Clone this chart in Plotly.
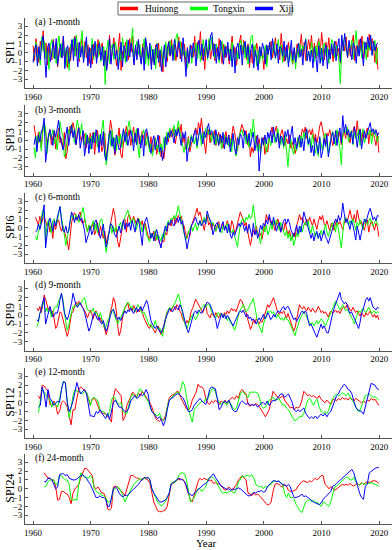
import numpy as np
import plotly.graph_objects as go

STATIONS = ["Huinong", "Tongxin", "Xiji"]
COLORS = ["#ff0000", "#00ff00", "#0000ff"]
PANEL_LABELS = ["(a) 1-month", "(b) 3-month", "(c) 6-month",
                "(d) 9-month", "(e) 12-month", "(f) 24-month"]
Y_TITLES = ["SPI1", "SPI3", "SPI6", "SPI9", "SPI12", "SPI24"]
YEAR_TICKS = [1960, 1970, 1980, 1990, 2000, 2010, 2020]
SPI_TICKS = [-3, -2, -1, 0, 1, 2, 3]

# time sampling (first date, step in years) of each SPI series
SPI1_T0, SPI1_DT = 1960.0, 0.25
SPI3_T0, SPI3_DT = 1960.17, 0.25
SPI6_T0, SPI6_DT = 1960.42, 0.25
SPI9_T0, SPI9_DT = 1960.67, 0.25
SPI12_T0, SPI12_DT = 1960.92, 1 / 3
SPI24_T0, SPI24_DT = 1961.92, 1 / 3

# ---------------- SPI1 ----------------
spi1_huinong = [
    0.8, -0.9, 1.6, 0.2, -1.1, 1.3, 0.4, 2.5, -0.6, 1.1, -1.4, 0.9, 0.3, -0.8, 1.5, -0.2, 1.2, -1.6, 0.4, 0.9, -0.5, 1.8, -1.2, 0.3, -1.7, 0.6, -0.9, 1.4, 0.2, 1.9, -0.4, 1.1, -1.0, 0.7, 1.6, -0.3, 1.3, -0.6, 0.9, -1.2,
    0.5, -1.3, 1.0, 0.1, -0.7, 1.5, -0.2, 0.6, 1.1, -1.1, 0.3, -1.8, 0.4, 2.0, -0.9, 0.8, 1.7, -0.3, -1.5, 0.5, 2.2, -2.0, 0.2, -0.6, 1.2, 0.4, -0.8, 1.6, 0.1, 1.9, -1.1, 0.7, -0.4, 1.3, 0.2, -1.2, 1.0, -0.5, 1.4, 0.3,
    -0.8, 0.6, -1.4, 0.2, -1.2, 0.9, -0.6, 1.1, -1.6, 0.3, -2.2, 0.5, 0.8, -1.0, 1.3, -0.4, 1.5, -0.2, 0.9, -0.9, 0.4, 1.8, -0.7, 1.2, -0.3, 1.0, -1.5, 0.6, -1.1, 0.2, 0.8, -0.5, 1.9, -0.4, 1.2, 0.3, 2.4, -0.8, 0.5, -1.9,
    0.9, -0.3, 1.4, -0.7, 0.3, 1.1, -0.9, 0.5, -0.4, 1.6, 0.1, -1.2, 1.0, -0.6, 0.7, 0.2, -1.3, 0.8, 1.9, -0.5, 0.6, -1.4, 0.2, 1.2, 2.0, -0.2, 1.4, 0.4, -0.8, 1.0, -1.7, 0.3, -1.2, 0.7, -0.4, 1.1, 0.2, -0.9, 0.6, -0.3,
    -1.9, 0.5, -1.1, 0.8, 0.3, 1.3, -0.6, 0.9, 1.7, -0.3, 0.4, -0.8, 2.2, 0.1, -1.0, 0.6, -0.5, 1.2, -0.2, 0.3, -1.3, 0.4, -0.7, 1.0, -0.2, 0.8, 2.1, -0.4, 1.2, -0.9, 0.6, 1.5, 0.4, 2.0, -0.5, 1.1, -0.6, 0.9, 1.6, -0.2,
    2.3, 0.4, -0.8, 1.2, 0.1, 1.7, -0.5, 0.6, -1.0, 0.8, 1.3, -0.3, 0.5, -1.2, 0.9, 1.4, 0.2, 1.8, -0.6, 0.7, -0.4, 1.1, 2.0, -0.9, 0.8, -0.3, 1.5, 0.2, 1.9, -0.7, 0.4, 1.2, -0.5, 2.1, 0.3, 1.6, 0.6, -1.1, 1.0, -1.9,
]
spi1_tongxin = [
    -0.9, 0.4, 1.2, -1.0, 0.6, -1.4, 1.8, 0.2, 1.3, -0.7, 0.5, -1.9, 0.9, 1.5, -0.6, 0.4, -1.2, 0.8, 1.9, -0.5, 1.1, -0.3, 0.6, -1.6, 0.4, -2.0, 1.0, 0.7, 1.6, -0.4, 2.0, 0.3, -0.7, 1.2, 2.5, -0.9, 0.8, 1.4, -1.1, 0.2,
    -0.4, 1.6, -0.8, 1.1, 0.9, -0.5, 1.3, -1.0, -0.6, 0.7, -3.6, 0.3, 1.4, -1.2, 0.5, 1.0, -0.8, 1.2, 0.3, -1.4, 0.6, -0.9, 1.7, 0.2, -1.1, 1.5, -0.3, 0.8, 1.0, 2.8, -0.7, 0.4, 1.3, -0.2, 0.9, -0.8, 0.5, 1.6, -1.3, 0.7,
    -1.5, 0.2, 0.8, -1.0, 0.4, -1.8, 1.1, -0.6, -0.9, 0.7, -1.4, 0.3, 1.2, -0.5, 0.6, 1.4, -0.2, 1.0, -0.8, 1.7, 2.2, 0.4, 1.3, -0.3, 0.9, -0.6, 0.2, -1.7, -0.4, 0.8, -1.2, 0.5, 0.1, 1.1, -0.7, 0.9, -1.0, 0.6, 1.5, -0.4,
    1.2, -0.8, 1.6, 0.3, 1.8, 0.5, -0.6, 1.0, 0.2, -1.1, 0.8, 1.3, -0.5, 0.9, -0.2, 0.6, 0.4, -0.9, 1.2, -0.3, -1.6, 0.5, -0.7, 0.9, 1.4, 0.2, 1.1, -0.6, 0.7, -1.3, 0.4, 1.7, 2.0, -0.4, 0.9, -1.5, 0.3, -1.2, 0.6, -0.8,
    -0.3, 0.8, -1.6, 0.4, 1.0, -0.5, 0.2, 1.2, -0.7, 0.6, 1.5, -0.2, 0.9, -1.1, 0.4, -0.6, 0.3, -1.3, 0.7, -0.9, -1.2, 0.2, -1.8, 0.5, -0.6, 1.0, -0.3, 0.8, 0.4, 1.6, -0.9, 0.2, -0.5, 1.2, 0.1, -1.0, 0.8, -0.4, 1.3, 0.5,
    -0.9, 0.7, 1.1, -0.3, 0.6, -1.2, 0.3, 1.5, 1.0, -0.6, 0.8, 0.2, -0.8, -3.5, 0.5, 1.2, 1.8, 0.3, -0.4, 0.9, 0.5, 1.4, -0.7, 1.1, 2.5, -0.2, 0.8, 0.4, -0.6, 1.3, 0.9, -0.8, 1.1, 0.3, 1.6, -0.2, 0.8, 1.4, -1.3, 0.6,
]
spi1_xiji = [
    -1.1, 0.3, 0.9, -1.5, 0.7, -0.8, 1.2, 1.9, -0.4, -2.8, 0.6, 1.1, -1.0, 0.5, 1.3, -0.7, 1.6, -1.4, 0.2, 1.0, -0.6, 1.9, -1.8, 0.4, 0.8, -1.2, -0.3, 1.5, -0.9, 1.7, 0.6, -1.6, 1.2, -0.5, 0.8, -1.1, 0.4, 1.8, -1.5, 0.6,
    -1.7, 0.9, -0.4, 1.3, -1.2, 0.5, 1.1, -0.8, 0.7, -1.5, 0.2, -2.0, -0.6, 1.6, -1.3, 0.4, 1.0, -0.7, 0.3, -1.9, -0.4, 1.2, -1.6, 0.8, 0.3, -1.0, 1.4, -0.5, 1.1, 0.2, -1.4, 0.9, -0.8, 1.5, -0.2, -1.3, 0.6, -2.0, 1.7, 0.1,
    -0.7, 1.1, -1.9, 0.4, -1.4, 0.6, 1.0, -1.1, 0.3, -2.1, -0.6, 0.9, -1.6, 0.4, 1.2, -0.3, 0.8, -0.9, 1.5, 0.2, -0.5, 1.3, 0.4, -1.0, 1.7, -0.4, -2.7, 0.5, -1.2, 0.9, -0.6, 1.1, 0.2, -1.5, 0.8, 1.4, -0.3, 1.0, -0.9, 0.5,
    1.5, -0.6, 0.3, 1.9, 2.3, -0.4, 1.0, -1.2, 0.6, -0.8, 1.4, 0.1, -1.3, 0.7, -0.5, 1.2, -0.9, 0.4, -1.6, 0.8, -2.3, 0.5, 1.1, -0.7, 0.9, -1.4, 0.6, 1.3, -0.5, 0.8, -1.1, 0.4, 1.0, -1.7, 0.3, -0.6, -2.0, 0.7, -0.4, 1.1,
    0.4, -1.3, 0.9, -0.2, 1.2, -0.8, 1.6, 0.3, -0.6, 1.0, -1.2, 0.7, 0.5, -0.4, 1.3, -0.9, 0.9, -1.6, 0.2, 1.4, -0.8, 0.6, -1.1, 0.3, 1.1, -0.5, 0.4, -1.4, 0.7, 1.5, -0.9, 0.2, -1.0, 0.3, -1.7, 0.6, -0.4, -2.2, 0.8, -1.2,
    0.5, -1.5, 0.2, 0.9, -1.8, 0.4, -0.7, 1.0, -0.3, 1.3, -0.9, 0.6, 1.6, -1.0, 2.0, 0.2, 2.2, 0.7, -0.5, 1.4, 0.3, -0.8, 1.1, 0.5, -1.2, 0.8, -0.4, 1.6, 0.1, -1.5, 1.2, 0.4, 1.8, 0.6, 2.0, -0.3, 1.3, 0.2, 0.9, 1.1,
]

# ---------------- SPI3 ----------------
spi3_huinong = [
    1.7, 0.3, -0.6, 0.9, 0.2, -0.9, 1.3, 1.9, 1.0, -0.4, 0.6, 1.2, -0.5, 0.3, 1.1, -1.0, 0.4, 1.4, -0.3, 0.2, -0.8, 0.9, -2.1, -1.2, 0.3, 1.6, 0.8, 2.0, 1.2, -0.5, 0.9, 1.5, 0.4, -0.2, 1.0, 0.6, -0.9, 0.5, -0.3, 0.8,
    -0.2, 0.9, -1.6, 0.4, 1.1, -0.7, 0.3, -1.3, -0.6, 0.8, -1.9, -1.2, 0.5, 2.3, 1.2, -0.4, -1.7, -0.8, 0.6, 1.4, -1.5, -2.0, -0.3, 0.9, 1.6, 0.4, 1.2, -0.6, 0.8, 1.5, -0.2, 0.7, 1.3, -0.4, 0.5, 1.0, 0.2, -0.6, 0.9, -0.3,
    -1.0, 0.4, -1.3, -0.5, 0.3, -1.6, -0.8, 0.5, -1.9, -1.2, -2.1, -0.6, 0.7, -0.2, 1.1, 0.4, 1.3, 0.6, -0.4, 0.9, 1.5, 0.8, 1.8, -0.3, 0.5, -1.0, -0.6, 0.4, -1.3, -0.5, 0.2, 0.9, 1.4, 0.6, 2.0, 1.1, 2.5, 0.9, -0.4, -1.5,
    0.6, 1.2, -0.3, 0.8, 0.4, 1.1, -0.6, 0.2, 0.9, -0.4, 0.5, -0.9, 0.3, 1.0, -0.2, 0.6, -0.7, 0.5, 1.6, 0.9, -0.4, -1.2, 0.3, 1.0, 1.8, 1.3, 0.6, 1.1, -0.5, 0.4, -1.9, -0.8, -1.4, -0.3, 0.5, -0.7, 0.2, -1.1, -0.5, 0.3,
    -1.6, -0.8, -1.3, 0.2, 0.8, 1.5, 0.4, 1.0, 1.6, 0.5, -0.3, 0.7, 1.2, 0.3, -0.6, 0.2, -0.4, 0.6, -0.9, -0.2, -1.0, -1.5, -0.6, 0.3, -0.5, 0.4, 1.3, 0.8, 1.5, 0.2, 0.9, 1.2, 0.6, 1.3, -0.2, 0.7, -0.3, 0.5, 1.6, 2.1,
    1.2, 0.3, -0.4, 0.8, 0.5, 1.2, 0.1, -0.6, -0.2, 0.7, 1.0, 0.3, 0.9, -0.5, 0.4, 1.1, 0.2, 1.4, 0.6, -0.3, 0.8, 1.0, 1.6, 0.4, 2.2, 0.6, 1.3, -0.2, 1.0, 0.3, 0.8, 1.4, -0.4, 1.1, 0.5, 0.9, 0.2, -0.6, 0.8, -1.4,
]
spi3_tongxin = [
    -0.8, -2.0, 0.5, -0.3, 1.0, -1.2, 0.8, 2.0, 1.3, -1.5, 0.2, 0.9, 0.4, 1.2, -0.4, 0.6, -1.1, 0.8, 2.1, 1.0, 0.5, -1.9, -1.4, 0.3, 1.2, 0.6, 1.8, 0.9, -0.3, 1.1, 2.3, 1.4, 0.6, 1.9, 0.2, -0.6, 0.8, -0.4, 0.3, -1.0,
    0.5, -0.3, 0.9, 0.2, -0.8, 0.6, -0.2, 1.3, 2.3, -0.5, -2.8, -1.6, 0.8, -0.6, 1.1, -0.9, 0.3, -1.2, 0.5, -0.4, 0.7, -0.8, 1.2, 0.6, -0.5, 1.4, 2.2, 0.9, 1.1, -0.3, 0.6, 1.3, -0.8, -2.0, 0.4, 0.7, 1.2, 0.3, -0.6, 0.5,
    -1.3, -0.4, -1.8, -0.9, 0.2, -1.0, -0.5, -1.6, -0.4, -1.2, 0.3, -0.8, 0.9, 0.2, 1.4, 0.6, 0.5, 1.7, 0.4, 1.2, 2.2, 1.0, 0.3, -0.6, -1.4, -0.5, -1.0, 0.2, -0.8, 0.6, 0.1, -0.4, 0.3, -0.9, 0.5, 1.0, -0.6, 0.8, 0.2, 1.3,
    1.5, 0.6, 1.2, -0.2, 0.9, 0.4, -0.5, 0.7, -0.3, 0.5, -1.0, 0.2, 0.6, -0.4, 0.3, -0.7, 0.2, -1.3, 0.4, -0.6, -1.8, -0.9, 0.3, 0.8, 1.2, 0.5, 0.9, -0.4, 0.6, -0.8, 1.3, 0.4, 2.4, 0.7, -0.6, -1.2, -0.4, -1.5, 0.2, -0.6,
    0.3, -1.4, -0.5, 0.4, -0.6, 0.2, 0.7, -0.3, 0.5, 1.3, 0.2, -0.5, 0.4, -0.9, 0.6, -1.2, -3.0, -0.8, 0.1, -1.1, -1.6, -0.4, -1.2, 0.3, -0.8, 0.5, -0.3, 0.9, 0.2, 1.2, -0.6, 0.4, -0.9, 0.7, -0.2, -1.5, -0.5, -1.8, 0.3, -0.7,
    -1.2, 0.4, 0.8, -0.6, -1.5, -0.3, 0.5, 1.0, 0.4, -0.6, 1.2, 0.3, -0.9, -2.8, 0.6, 1.3, 0.8, 1.5, -0.2, 0.6, 1.1, -0.5, 0.9, 0.2, 0.4, 1.2, -0.6, 0.7, 1.3, -0.3, 0.5, 1.0, 0.6, 1.2, -0.4, 0.8, 1.1, 0.3, -0.2, 0.5,
]
spi3_xiji = [
    -0.5, 0.4, -1.3, 0.6, -0.2, 0.9, 1.4, 2.5, -2.5, -0.8, 0.6, 1.2, 0.3, -0.6, 1.1, 0.4, 1.3, 2.3, 0.5, -0.2, -1.1, -0.4, 0.8, 1.5, -0.6, 0.9, 1.7, 0.3, 1.2, -0.5, 0.7, 1.4, -0.9, 0.4, 1.1, -1.8, -0.4, 0.6, -1.5, 0.2,
    -1.0, 0.8, -0.3, 1.2, 0.4, -1.4, 0.7, -0.6, 1.0, -1.8, -2.3, -0.9, 0.5, 1.1, -0.7, 0.3, -1.5, 0.6, -0.4, -1.1, -0.8, 0.5, 1.3, -0.2, 0.9, -0.6, 0.4, 1.1, 0.3, -1.2, 0.8, -0.5, 1.4, 0.2, -0.9, 0.6, -1.8, 0.9, 1.3, 0.4,
    -0.6, -1.5, -0.2, 0.5, -1.1, -0.4, 0.6, -1.3, -0.8, -2.3, -1.4, 0.4, -0.5, 0.9, 0.3, 1.1, 0.6, -0.3, 1.2, 0.5, 1.3, 0.4, -0.6, 0.9, 0.2, 1.0, -2.4, -1.0, -0.7, 0.4, -0.2, 0.8, 1.2, -0.6, 0.3, 1.4, 0.5, -0.4, 1.0, 0.3,
    1.3, 1.9, 0.6, 1.1, 0.8, -0.5, 1.2, 0.2, -0.6, 0.7, -0.3, 0.9, -1.0, 0.4, -0.5, 0.6, -1.3, -0.2, 0.8, -0.9, -1.6, 0.3, -0.5, 0.7, 0.4, -0.9, 1.1, 0.5, -0.3, 0.8, -0.7, 0.2, 0.9, -1.2, -0.4, 0.6, -3.5, -1.0, 0.3, -0.5,
    0.6, -0.4, 0.9, 0.2, 1.1, -0.3, 1.5, 0.4, -0.2, 0.8, -0.9, 0.5, 0.3, -0.6, 1.0, 0.4, 1.2, -0.4, 0.6, 1.6, -0.5, 0.3, -1.0, -0.3, 0.6, -0.8, 0.2, -1.2, 0.5, 1.3, -0.4, 0.2, -1.4, -0.6, -1.8, 0.3, -0.9, -1.5, 0.4, -2.0,
    -1.3, 0.2, -0.7, 0.6, -1.9, -0.5, 0.3, 0.9, -0.4, 1.1, -0.6, 0.8, 1.4, -0.3, 2.8, 0.9, 1.8, 0.6, 1.2, 0.3, 1.0, -0.4, 1.5, 0.7, -0.8, 0.5, 1.2, -1.0, 0.4, 1.1, 0.2, 0.8, 1.6, 2.0, 0.9, 1.3, 0.7, 1.2, 0.5, 0.9,
]

# ---------------- SPI6 ----------------
spi6_huinong = [
    1.2, 0.8, 0.3,
    1.3, 0.4, 1.0, 1.2, 0.8, 0.2, 0.6, -0.5, 0.3, -1.2, 0.4, -0.2, 0.6, 0.9, 0.1, -0.4, 0.2, -0.6, -1.0, -1.5, -2.5, -1.0, 0.6, 1.2, 1.7, 1.4, 0.8, 1.5, 1.8, 0.6, 0.5, 0.9, 0.3, -0.4, 0.3, -0.2,
    0.1, 0.5, -0.8, -0.3, 0.6, -0.9, 0.2, -0.6, -1.2, -0.4, -1.8, -1.0, -0.6, 0.4, 1.6, 2.2, 1.4, -0.5, -1.6, -2.2, -1.2, 0.3, 0.8, 1.0, -0.5, 1.2, 1.5, 1.0, 0.7, 1.3, 0.9, 0.4, 1.1, 0.6, 0.3, 0.8, -0.2, 0.5, -0.4, -0.9,
    -1.3, -0.6, -1.0, -0.4, -1.5, -0.8, -1.2, -1.8, -2.0, -1.4, -1.6, -0.5, -0.8, 0.3, 0.6, 0.2, 0.9, 1.2, 0.4, 0.8, 1.4, 0.9, 1.3, 0.5, 0.2, -0.6, -1.2, -0.4, -0.9, 0.2, 0.6, 1.0, 1.6, 2.2, 1.4, 1.8, 1.2, 0.4, -0.3, 0.8,
    1.4, 0.3, 0.6, -0.2, 0.5, 0.2, -0.4, 0.3, 0.7, -0.3, 0.1, 0.5, -0.2, 0.4, 0.8, 0.2, -0.5, 0.8, 0.4, -0.6, -0.3, 0.5, 1.2, 1.8, 1.3, 0.9, 0.2, 0.6, -0.4, -1.2, -2.0, -1.1, -0.3, -0.8, 0.2, -0.5, -1.0, -0.6, -1.3, -0.4,
    0.3, 1.5, 0.9, 1.2, 0.5, 0.8, 0.2, -0.3, 0.4, 1.0, 0.3, -0.5, 0.2, -0.4, 0.6, -0.2, -0.8, -0.3, -1.0, -1.2, -0.6, -1.1, 0.2, 0.8, 1.5, 0.9, 1.2, 0.6, 0.3, 1.0, 0.5, 1.2, 0.8, 0.2, 1.0, 0.4, -0.2, 0.6, 1.3, 0.9,
    1.4, 0.5, 0.2, 0.8, 0.3, -0.4, 0.5, 0.2, -0.3, 0.6, 0.9, 0.4, 0.7, 0.2, -0.2, 0.5, 1.0, 0.6, 1.4, 2.0, 1.2, 0.8, 1.5, 0.6, 2.0, 1.1, 0.4, 0.7, 0.2, -0.3, 0.6, 0.9, -0.5, 0.4, 0.8, 0.2, -0.3, 0.5, 0.1, -1.0,
]
spi6_tongxin = [
    -1.0, -1.4, -0.5,
    0.2, 1.0, 2.0, 1.2, -1.5, 0.4, 0.9, 0.3, -0.6, 0.8, 1.0, 0.2, 0.7, 1.6, 2.4, 1.2, 0.3, -0.8, -2.0, -1.2, -0.4, 0.6, 1.5, 1.1, 0.8, 1.5, 1.2, 0.6, 1.0, 1.6, 2.3, 0.9, 0.2, -0.5, 0.3, -0.2,
    0.4, 0.8, -0.3, 0.5, -0.6, 0.3, 0.9, 1.0, -0.4, -1.6, -2.8, -1.5, -0.3, 0.5, -0.6, 0.2, -0.5, 0.1, -0.4, 0.3, 0.6, -0.2, 0.8, 1.2, 1.5, 2.0, 1.3, 0.5, 0.8, 1.1, 0.4, -0.2, 0.6, 1.0, 0.3, -0.5, 0.4, 0.2, -0.8, -1.2,
    -1.6, -0.6, -0.9, -1.2, -0.3, -1.4, -0.8, -1.1, -1.5, -0.7, -1.2, -0.4, 0.2, 0.8, 0.4, 1.1, 0.9, 1.4, 1.0, 1.8, 2.5, 1.6, 0.8, 0.2, -0.8, -1.4, -1.0, -0.5, -0.2, 0.3, -0.4, 0.2, 0.5, -0.3, 0.4, 0.8, 0.3, 0.9, 1.2, 0.6,
    1.5, 1.2, 0.8, 0.3, 0.6, 0.2, -0.4, 0.1, 0.4, -0.3, -0.6, 0.2, -0.2, 0.3, 0.5, -0.4, -0.3, -0.6, -0.2, -0.9, -1.5, -2.2, -0.8, 0.4, 0.9, 1.0, 0.6, 1.2, 0.9, 1.5, 1.0, 1.3, 2.6, 0.8, -0.2, -0.6, -1.0, -1.8, -0.4, 0.2,
    -0.5, 0.3, -0.8, -0.4, 0.5, -0.2, 0.8, 0.3, 0.9, 0.4, -0.3, 0.6, 0.2, -0.5, -0.9, -0.3, -1.2, -0.6, -1.5, -0.8, -2.0, -1.4, -0.6, -1.0, -0.3, 0.2, -0.5, 0.3, 0.6, 0.2, 0.8, -0.2, -0.6, 0.3, -0.4, -1.0, -0.5, -1.2, -0.8, -0.3,
    -0.9, -0.2, 0.4, -0.5, -1.0, -0.4, 0.2, 0.6, 0.3, -0.5, 0.8, -0.2, -1.0, -2.3, -0.6, 0.9, 1.2, 0.6, 0.3, 0.8, 0.4, 1.0, 0.5, -0.3, 0.6, 0.2, 0.9, 0.4, -0.2, 0.7, 1.0, 0.3, 0.8, 1.1, 0.5, 0.2, 0.6, 0.9, 0.4, 0.3,
]
spi6_xiji = [
    -0.5, -0.3, 0.4,
    -0.2, 0.5, 1.6, 2.6, -2.3, -0.5, 0.6, 1.1, 0.3, -0.4, 0.8, 0.2, 1.1, 1.8, 2.4, 0.8, -0.3, -0.5, 0.2, -0.6, -0.4, 0.8, 1.8, 1.4, 0.6, 1.2, 0.9, 1.5, 0.8, 1.1, 0.4, -0.3, -1.7, -1.2, -0.6, 0.2,
    -0.8, -0.3, 0.6, 0.9, 0.2, -0.7, -1.2, -0.5, 0.4, -0.9, -2.2, -1.5, -0.2, 0.5, 0.3, -0.4, -0.8, -1.1, -0.4, 0.2, -0.6, 0.4, 0.9, -0.2, 0.5, 0.1, 0.6, -0.3, 0.8, 0.2, -0.5, 0.6, 1.0, 0.4, -0.6, -2.0, 0.3, 0.9, 1.2, 0.5,
    -0.4, -1.2, -0.6, -1.5, -0.8, -0.2, -1.0, -1.6, -2.3, -1.3, -0.5, 0.2, -0.4, 0.6, 0.3, 0.9, 0.5, 0.2, 0.8, 1.1, 0.6, 1.2, 0.4, 0.8, -0.5, -1.2, -2.4, -1.5, -0.6, 0.2, 0.5, 0.9, 1.2, 0.6, 0.3, 0.8, 0.2, 0.5, 0.9, 0.4,
    1.9, 1.3, 0.8, 0.5, -0.8, -0.2, 0.4, 0.6, 0.1, -0.5, 0.3, 0.7, -0.3, 0.2, -0.6, 0.4, -0.8, -1.2, -0.5, -0.9, -0.4, 0.2, 0.5, 0.1, 0.6, 0.3, -0.4, 0.2, -0.6, 0.4, -0.3, -1.0, 0.5, -0.8, -0.3, -1.2, -0.6, 0.3, -0.2, 0.5,
    0.2, 0.9, 0.4, 1.5, 0.8, 0.3, 1.2, 0.5, -0.4, 0.2, 0.6, -0.5, 0.3, 0.8, 1.0, 0.4, 1.0, 0.6, -0.2, -0.6, -1.0, -0.4, 0.3, -0.7, 0.2, -0.5, 0.8, 1.8, 1.2, 0.6, 0.2, -0.5, -1.2, -0.6, -1.5, -0.8, -0.4, -1.2, -0.6, -1.5,
    -0.8, -0.3, -1.0, -1.3, -1.8, -1.2, -0.5, 0.2, 0.5, 1.0, 0.6, 1.4, 0.8, 1.2, 2.8, 1.6, 0.6, 1.0, 0.4, -0.2, 0.8, 0.3, -0.5, -1.4, 0.2, -0.6, -1.4, -0.5, 0.4, 1.0, 0.6, 1.3, 1.8, 2.2, 1.5, 0.9, 1.2, 0.8, 1.4, 1.3,
]

# ---------------- SPI9 ----------------
spi9_huinong = [
    0.8, 0.5,
    1.0, 0.3, 1.2, 2.3, 1.8, 1.2, 0.6, 0.9, 0.2, 0.5, -0.8, -1.5, -1.2, -0.3, 0.4, 0.2, -0.5, -1.2, -1.8, -2.4, -1.8, -0.6, 0.2, 0.4, 0.9, 1.5, 1.2, 1.6, 1.4, 1.0, 0.8, 0.5, 0.2, -0.3, 0.3, 0.6,
    0.2, -0.4, 0.3, 0.5, 0.1, -0.6, -0.3, -0.8, -1.0, -1.5, -2.2, -1.6, -0.4, 0.5, 1.0, 2.0, 1.6, 0.5, -1.2, -2.3, -1.8, -0.6, 0.4, 0.8, 1.2, 1.4, 0.6, 0.9, 0.5, 1.1, 0.8, 0.3, 0.7, 0.4, 0.9, 0.2, -0.2, -0.6, -1.0, -1.3,
    -1.5, -1.1, -1.4, -1.8, -2.0, -1.6, -1.2, -1.8, -2.2, -1.9, -1.2, -0.5, 0.3, 0.6, 0.8, 0.4, 0.9, 1.0, 0.6, 1.2, 1.0, 0.5, 0.2, -0.4, -0.8, -1.0, -0.6, -0.9, -0.3, 0.5, 0.8, 1.2, 1.8, 1.5, 1.2, 0.9, 0.6, 0.3, 0.8, 1.2,
    0.2, 0.0, -0.3, 0.2, 0.1, -0.2, 0.3, 0.0, -0.3, 0.2, 0.1, -0.2, 0.3, 0.1, 0.5, 0.2, 0.6, 0.8, 0.5, 0.7, 0.4, 0.9, 1.3, 1.8, 1.6, 1.2, 0.8, 0.3, -0.4, -1.0, -1.6, -1.2, -0.6, -0.9, -0.4, -0.7, -1.0, -0.6, -0.8, -0.4,
    0.1, 0.6, 1.2, 0.9, 1.3, 1.6, 2.0, 1.4, 0.8, 0.3, 0.1, 0.4, 0.2, 0.5, 0.1, -0.3, 0.2, -0.4, -0.8, -1.3, -1.8, -1.4, -0.5, 0.4, 1.2, 0.9, 0.7, 1.0, 0.8, 0.5, 0.9, 0.6, 0.4, 0.8, 0.5, 0.3, 0.6, 1.0, 0.7, 0.3,
    0.5, 0.2, 0.4, 0.1, -0.2, 0.3, 0.5, 0.2, 0.4, 0.6, 0.3, 0.5, 0.2, 0.6, 0.9, 1.0, 0.8, 1.2, 1.0, 0.6, 0.5, 0.9, 0.6, 0.3, 0.5, 0.2, -0.1, 0.3, 0.1, -0.2, 0.3, 0.0, 0.2, 0.5, 0.1, -0.2, 0.1, -0.3, 0.0, -0.5,
]
spi9_tongxin = [
    -1.3, -0.8,
    0.2, 0.6, 1.5, 1.2, 0.4, 0.8, 0.3, 0.6, -0.2, 0.4, 0.8, 1.0, 0.9, 1.6, 2.0, 2.4, 1.8, 0.2, -0.8, -1.7, -1.2, -0.3, 0.4, 1.0, 0.9, 1.2, 1.0, 1.4, 1.2, 1.6, 1.8, 2.0, 1.2, 0.6, 0.5, 0.3,
    0.5, 0.8, 0.2, 0.4, 0.1, -0.2, 0.3, -0.5, -1.0, -1.5, -1.2, -0.6, -0.3, 0.2, 0.6, 0.4, -0.2, -0.6, -1.0, -0.5, -0.3, 0.2, 0.5, 0.9, 1.2, 1.5, 1.3, 0.8, 1.0, 0.6, 0.4, 0.8, 1.2, 0.9, 0.5, 0.2, 0.4, 0.1, -0.3, -0.8,
    -1.2, -1.0, -1.5, -1.2, -0.6, -1.2, -1.6, -1.4, -2.0, -2.4, -1.5, -0.6, 0.2, 0.6, 0.9, 0.7, 0.9, 1.2, 1.5, 2.0, 2.4, 1.8, 0.9, 0.3, -0.6, -1.2, -1.5, -1.0, -0.5, -0.2, 0.1, -0.3, -0.5, -0.2, 0.3, 0.6, 0.8, 1.0, 1.2, 0.9,
    1.2, 1.3, 1.0, 0.4, 0.2, 0.0, -0.3, 0.2, 0.3, -0.1, 0.2, -0.2, 0.1, -0.3, -0.6, -0.2, -0.8, -1.0, -1.4, -1.7, -1.2, -0.4, 0.2, 0.6, 1.0, 1.2, 0.8, 0.4, 0.6, 0.9, 1.2, 1.5, 1.9, 1.0, -0.2, -0.8, -1.2, -1.6, -2.0, -1.0,
    -0.4, 0.2, 0.5, 0.3, 0.5, 0.2, 0.4, 0.0, -0.3, 0.1, -0.2, -0.5, -0.3, -0.6, -0.2, -0.5, -0.5, -0.8, -1.2, -1.6, -2.0, -2.3, -1.6, -1.0, -0.6, -0.2, 0.2, 0.4, 0.1, -0.3, -0.6, -0.9, -1.0, -0.8, -1.2, -0.9, -0.6, -1.0, -0.7, -0.4,
    -0.6, -0.9, -1.2, -0.8, -0.4, 0.2, 0.6, 0.9, 1.2, 1.6, 1.3, 1.0, 0.6, 0.9, 1.2, 0.8, 0.5, 0.7, 0.4, 0.2, -0.2, -0.6, -1.0, -0.4, 0.2, 0.5, 0.3, 0.6, 0.8, 0.5, 0.3, 0.6, 0.9, 0.6, 0.2, 0.4, 0.5, 0.2, 0.4, 0.3,
]
spi9_xiji = [
    -0.5, -0.7,
    0.2, 0.6, 1.5, 2.0, -1.0, -0.2, 0.5, 1.0, 0.4, -0.2, 0.0, 0.3, 0.2, 0.8, 1.8, 2.5, 1.5, 0.3, -0.2, -0.5, 0.0, 0.6, 1.4, 2.5, 1.8, 1.2, 0.9, 1.2, 1.4, 1.0, 0.8, 0.3, -0.3, -1.0, -1.8, -1.4,
    -0.6, 0.0, 0.3, -0.2, -0.5, -0.2, -0.8, -1.0, -0.6, -1.2, -1.8, -1.4, -0.6, 0.0, 0.5, 0.7, 0.2, -0.3, -0.5, -0.2, -0.6, -0.2, 0.3, 0.5, 0.2, 0.6, 0.4, 0.8, 0.5, 0.2, 0.6, 0.9, 0.4, 0.7, 1.0, 0.5, 0.9, 1.4, 1.7, 1.2,
    0.0, -0.6, -1.0, -1.3, -1.5, -1.2, -1.6, -1.8, -2.0, -1.6, -1.2, -0.5, 0.0, 0.5, 0.8, 0.6, 0.4, 0.7, 1.0, 0.8, 0.6, 1.2, 0.9, 0.4, -0.4, -1.2, -1.6, -2.0, -1.5, -0.8, -0.2, 0.3, 0.5, 0.2, 0.6, 0.4, 0.2, 0.5, 0.9, 1.2,
    1.5, 1.4, 1.2, 0.8, 0.4, 0.0, -0.6, -1.5, -1.0, -0.4, 0.2, -0.3, 0.1, -0.4, 0.0, -0.3, -0.6, -0.9, -1.2, -0.8, -0.4, 0.0, 0.3, 0.5, 0.3, 0.6, 0.2, -0.2, 0.1, -0.4, -0.2, -0.6, -0.4, -0.8, -1.0, -0.6, -0.3, -0.6, -0.2, 0.1,
    -0.4, -0.2, 0.3, 0.0, -0.5, -0.3, 0.1, -0.2, 0.2, 0.5, 0.3, 0.6, 0.8, 1.0, 0.6, 0.9, 1.0, 0.7, 0.3, -0.2, -0.5, -0.3, -0.7, -0.4, 0.0, 0.3, 0.5, 0.2, 0.5, 0.2, -0.6, -1.2, -1.0, -1.4, -1.8, -2.0, -2.5, -2.0, -1.4, -1.0,
    -1.5, -1.2, -1.6, -2.0, -2.0, -1.2, -0.3, 0.2, 0.8, 1.2, 1.6, 2.1, 2.6, 1.8, 1.5, 1.3, 1.5, 1.2, 0.6, 0.2, 0.4, 0.0, -0.5, -0.9, -1.2, -1.5, -0.8, 0.2, 0.6, 1.2, 1.8, 2.0, 1.6, 2.0, 1.4, 0.9, 0.8, 0.6, 0.9, 0.8,
]

# ---------------- SPI12 ----------------
spi12_huinong = [
    0.8,
    0.4, 2.0, 1.9, 1.6, 1.3, -0.2, -0.3, 0.2, -0.2, -1.3, -1.0, 0.0, 0.2, 0.0, -0.5, -1.5, -2.5, -0.8, -0.8, 0.5, 1.5, 1.8, 1.6, 1.5, 1.2, 0.5, -0.3,
    0.4, 0.5, 0.2, -0.5, -1.0, -1.2, -1.2, -1.3, -1.5, -1.8, -2.2, 0.6, 1.6, 1.3, 1.0, 0.8, -2.0, -1.6, -0.3, 0.2, 0.8, 1.2, 1.0, 0.6, 1.1, 0.8, 1.3, 1.0, 0.7, 0.3,
    0.0, -0.5, -1.3, -1.8, -2.0, -2.1, -1.9, -2.0, -1.5, -0.5, 0.5, 0.8, 0.9, 1.0, 1.3, 1.2, 0.6, 0.2, -0.2, -0.7, -0.8, -0.5, 0.3, 0.8, 1.2, 2.1, 1.8, 1.8, 1.5, 0.5,
    0.0, -0.2, 0.2, 0.0, 0.3, 0.1, -0.2, 0.2, 0.0, 0.3, -0.1, 0.2, 0.5, 0.6, 0.4, 0.8, 0.5, 1.3, 1.5, 1.2, 1.0, -0.2, -0.4, -0.2, -0.3, -0.1, -0.2, -0.5, -0.8, -1.2,
    -1.6, -1.2, -0.8, 0.3, 1.3, 1.0, 0.8, 0.5, 0.6, 0.8, 0.3, 0.0, -0.3, -0.6, -0.5, -0.8, -0.5, -0.6, -0.4, 0.3, 1.3, 1.0, 0.8, 0.9, 0.7, 0.8, 0.6, 0.5, 0.8, 0.4,
    0.2, 0.0, 0.3, 0.1, -0.2, 0.3, 0.4, 0.2, 0.5, 0.3, 0.6, 0.4, 0.5, 0.3, 0.6, 0.4, 0.2, 0.5, 0.3, 0.1, 0.0, 0.2, 0.0, 0.3, 0.2, 0.5, 0.3, 0.4, 0.0, -0.3,
]
spi12_tongxin = [
    -1.1,
    0.2, 1.5, 1.2, 0.8, 0.5, 0.3, -0.5, 0.0, -0.3, -0.5, 0.5, 1.5, 2.4, 2.3, 0.3, -1.7, -0.6, 0.8, 1.5, 1.3, 1.2, 1.2, 1.0, 1.3, 1.2, 0.6, -0.3,
    0.5, 0.6, 0.4, 0.2, -0.8, -1.0, -1.0, -1.2, -1.5, -1.0, 0.3, 0.7, 0.5, 0.0, -0.2, 0.0, -1.0, -1.2, -1.2, -0.3, 0.6, 1.0, 0.8, 0.6, 1.2, 1.6, 1.2, 0.8, 0.5, 0.2,
    -0.3, -1.0, -1.2, -1.4, -1.5, -1.2, -1.8, -2.0, -1.8, -0.5, 0.3, 0.5, 0.8, 0.9, 1.2, 1.0, 1.5, 2.4, 2.0, 0.6, -0.5, -1.5, -2.2, -0.8, -0.5, -0.3, 0.0, 0.2, 0.0, 0.5,
    0.4, 1.0, 1.5, 1.6, 1.2, 0.5, 0.0, -0.2, 0.1, 0.0, -0.3, 0.2, -0.2, -0.5, -0.8, -0.6, 0.2, 1.0, 1.3, 1.0, 0.8, 0.6, 1.2, 1.2, 1.2, 1.2, 1.1, 0.5, -0.4, -0.6,
    -0.5, -0.2, 0.3, 0.5, 0.6, 0.4, 0.3, 0.5, 0.0, -0.3, -0.2, -0.6, -0.8, -1.2, -1.5, -2.0, -2.0, -1.8, -1.5, -1.6, -1.2, -0.5, 0.3, 0.5, 0.0, -0.3, 0.2, 0.4, -0.5, -1.0,
    -1.2, -1.0, -1.2, -0.8, 0.0, 0.5, 0.8, 1.0, 0.8, 0.9, 1.1, 1.0, 0.8, 1.1, 0.6, 0.3, 0.0, -0.5, -0.9, -1.0, -0.4, 0.3, 0.8, 0.9, 1.0, 0.8, 0.6, 0.7, 0.5, 0.3,
]
spi12_xiji = [
    -0.5,
    -0.3, 1.8, 1.0, -0.5, 1.5, 0.5, 0.2, -0.3, 0.0, 0.2, 0.0, 1.5, 2.4, 2.3, 0.0, -1.0, -0.5, 0.2, 1.2, 2.3, 1.5, 1.0, 1.3, 1.5, 1.0, -0.3, -1.5,
    -1.5, -1.6, -1.0, -1.2, -0.8, -1.2, -1.5, -1.8, -1.2, -1.9, -1.0, 0.0, 0.3, -0.2, -0.5, -0.5, -0.8, -1.0, -1.0, -0.6, 0.2, 0.5, 0.8, 0.5, 0.6, 1.0, 0.8, 1.0, 1.5, 1.0,
    -0.3, -1.0, -1.3, -1.5, -1.8, -1.6, -2.0, -2.6, -2.0, -0.8, 0.2, 0.5, 0.6, 0.8, 1.0, 1.0, 0.8, 0.6, 0.2, -0.5, -1.0, -1.0, -0.8, -0.3, 0.0, 0.3, 0.5, 0.2, 0.0, -0.2,
    0.5, 1.5, 1.8, 1.7, 1.6, 0.5, -0.8, -0.5, 0.0, 0.2, 0.0, 0.3, -0.3, -0.8, -1.0, -1.0, -0.5, 0.0, 0.2, 0.0, -0.2, 0.0, -0.3, -0.2, -0.3, -0.2, -0.5, -0.3, 0.0, 0.0,
    -0.2, 0.2, -0.3, 0.0, 0.3, 0.2, 0.5, 0.8, 1.0, 1.0, 0.6, 0.8, 1.0, 0.5, 0.0, -0.8, -1.0, -0.8, -1.0, -0.8, -0.6, -1.2, -1.5, -1.8, -1.6, -1.8, -1.5, -1.8, -1.5, -1.3,
    -1.5, -1.2, -1.6, -1.2, -1.0, -0.5, 0.2, 0.8, 1.0, 1.5, 1.8, 2.1, 1.9, 1.5, 1.4, 1.0, 0.2, -0.5, -0.8, -0.9, -1.0, -1.3, -0.5, 0.5, 1.2, 2.2, 2.1, 2.0, 1.6, 1.5,
]

# ---------------- SPI24 ----------------
spi24_huinong = [
    1.8,
    1.5, 1.2, 1.2, 1.0, 1.0, 0.2, -1.3, -1.2, -0.3, -0.3, -0.5, -0.6, -1.0, -1.7, -0.5, 0.0, 0.2, 0.5, 1.2, 1.8, 2.3, 2.3, 2.0, 1.8,
    1.5, 0.2, 0.0, 0.2, -0.2, -0.5, -0.5, -1.0, -2.3, -2.4, -2.2, 0.2, 0.3, 0.2, 0.0, -0.2, -0.5, -0.8, 0.0, 0.8, 1.5, 1.5, 1.4, 1.2, 1.2, 1.0, 1.1, 1.2, 1.1, 1.0,
    0.6, -0.5, -1.5, -2.0, -2.5, -2.6, -2.6, -2.5, -2.4, -2.0, -0.5, 0.5, 0.6, 0.8, 1.0, 1.1, 1.0, 1.1, 0.8, 0.2, -0.5, -1.2, -1.5, -0.8, 0.0, 0.8, 1.2, 1.0, 1.2, 1.1,
    1.0, 0.9, 1.0, 0.6, 0.7, 0.5, 0.6, 0.3, 0.0, -0.2, 0.0, 0.2, 0.0, -0.2, 0.2, 0.5, 1.0, 1.3, 1.5, 1.2, 1.0, -0.5, -0.6, -0.8, -0.5, -0.7, -0.6, -0.8, -1.0, -1.3,
    -1.6, -1.8, -1.8, -1.5, -0.3, 0.5, 0.6, 0.5, 0.3, 0.2, 0.5, 0.3, -0.2, -0.3, -0.3, -0.2, -0.1, 0.3, 0.6, 0.8, 0.9, 0.8, 0.7, 0.9, 0.8, 1.0, 1.2, 1.0, 1.2, 1.5,
    1.5, 0.5, 0.3, 0.0, 0.2, 0.1, -0.2, 0.0, 0.2, 0.3, 0.5, 0.4, 0.5, 0.4, 0.6, 0.4, 0.3, 0.5, 0.6, 0.4, 0.7, 0.5, 0.7, 0.8, 0.7, 0.8, 0.9, 0.9, 0.8, 0.6,
]
spi24_tongxin = [
    0.2,
    0.3, 0.8, 1.0, 1.0, 1.0, 0.5, 0.5, 1.5, 1.5, 1.2, 1.0, 1.0, 0.5, -1.2, -1.3, -1.2, -1.3, 0.5, 1.8, 1.5, 1.3, 1.3, 1.2, 1.5,
    1.2, 0.0, -0.3, -0.5, -0.5, -0.8, -0.8, -1.0, -1.5, -1.5, -1.2, 0.0, 0.0, 0.2, 0.1, -0.3, -0.8, -1.5, -1.0, -0.5, 0.0, 0.3, 0.6, 0.8, 1.0, 1.2, 1.0, 1.2, 1.3, 1.2,
    1.0, 0.0, -0.6, -1.0, -1.5, -1.8, -2.0, -1.7, -1.5, -1.0, -0.5, 0.6, 0.8, 0.7, 1.0, 1.5, 1.8, 1.8, 1.7, 1.0, -0.5, -1.5, -1.3, -1.0, -0.5, 0.0, 0.0, -0.3, 0.0, 0.2,
    1.0, 1.3, 1.3, 1.2, 1.0, 0.5, 0.0, -0.3, -0.5, -0.4, -0.5, -0.3, -0.2, -0.4, -0.5, 0.0, 0.8, 1.0, 1.5, 1.3, 1.5, 1.5, 1.4, 1.6, 1.2, 0.5, 0.3, 0.2, 0.3, 0.0,
    0.3, 0.2, 0.4, 0.5, 0.8, 0.9, 0.8, 0.9, 0.7, 0.5, -0.5, -1.0, -0.5, -1.0, -1.0, -1.2, -1.8, -2.2, -2.5, -2.7, -2.0, -1.5, -1.3, -1.3, -1.5, -1.3, -1.6, -1.5, -1.8, -2.0,
    -1.5, -1.6, -1.8, -2.0, -1.5, -0.5, 0.2, 0.3, 0.5, 0.8, 1.0, 1.2, 1.3, 1.3, 1.0, 1.0, 1.3, 0.8, 0.5, 0.4, 0.6, 0.6, 0.5, 0.6, 0.6, 0.7, 0.6, 0.5, 0.4, 0.3,
]
spi24_xiji = [
    0.8,
    0.8, 1.2, 1.2, 1.0, 0.5, 0.0, 0.2, 1.6, 1.7, 1.7, 1.5, 1.6, 1.2, 1.1, 1.0, 1.0, 1.1, 1.3, 1.5, 1.6, 1.4, 1.2, 0.8, 0.5,
    0.0, -0.5, -1.0, -1.0, -0.8, -1.0, -1.0, -1.2, -2.0, -2.0, -1.0, 0.0, 0.2, 0.0, -0.5, -0.8, -0.9, -0.7, -0.8, -0.6, -0.3, -0.2, 0.0, 0.2, 0.5, 0.8, 1.0, 1.3, 1.2, 1.3,
    1.0, 0.0, -0.5, -0.8, -1.2, -1.5, -1.5, -1.4, -1.3, -1.0, -0.5, 0.5, 0.7, 0.8, 1.0, 1.2, 1.1, 1.0, 0.8, 0.3, -0.5, -0.7, -0.8, -0.5, -0.3, 0.0, 0.2, 0.3, 0.5, 0.6,
    0.8, 1.2, 1.5, 1.7, 1.3, 1.0, 0.6, 0.3, 0.2, 0.0, -0.1, 0.0, -0.2, 0.0, -0.1, 0.0, 0.1, 0.0, -0.2, -0.5, -0.7, -0.8, -0.8, -0.6, -0.4, -0.5, -0.3, -0.3, -0.2, -0.4,
    -0.3, 0.2, 0.5, 0.7, 0.9, 0.9, 0.8, 0.9, 0.6, 0.5, 0.4, 0.3, 0.5, 0.2, -0.5, -1.0, -1.0, -0.9, -0.8, -0.6, -0.9, -0.8, -1.0, -1.2, -1.3, -1.5, -1.6, -1.7, -1.8, -1.6,
    -1.2, -1.0, -0.8, -0.6, -0.3, 0.3, 0.4, 0.6, 0.8, 1.0, 1.2, 1.5, 1.7, 1.8, 2.1, 2.2, 1.8, 1.0, 0.3, -0.5, -1.0, -1.2, 0.3, 0.5, 1.8, 2.0, 2.2, 2.3, 2.4, 2.4,
]

PANELS = [
    (SPI1_T0, SPI1_DT, [spi1_huinong, spi1_tongxin, spi1_xiji]),
    (SPI3_T0, SPI3_DT, [spi3_huinong, spi3_tongxin, spi3_xiji]),
    (SPI6_T0, SPI6_DT, [spi6_huinong, spi6_tongxin, spi6_xiji]),
    (SPI9_T0, SPI9_DT, [spi9_huinong, spi9_tongxin, spi9_xiji]),
    (SPI12_T0, SPI12_DT, [spi12_huinong, spi12_tongxin, spi12_xiji]),
    (SPI24_T0, SPI24_DT, [spi24_huinong, spi24_tongxin, spi24_xiji]),
]

W, H = 392, 550
FONT = "Liberation Serif, Times New Roman, serif"
AXIS_COLOR = "#555555"
LEFT = 25          # px, left edge of the plotting area
PANEL_H = 70.5     # px
BOTTOMS = [88, 175.5, 263, 350.5, 438, 524]

fig = go.Figure()
annotations = []
layout_axes = {}
for k, (t0, dt, series) in enumerate(PANELS):
    sx = "" if k == 0 else str(k + 1)
    xa, ya = "x" + sx, "y" + sx
    for name, color, vals in zip(STATIONS, COLORS, series):
        t = t0 + dt * np.arange(len(vals))
        fig.add_trace(go.Scatter(x=t, y=vals, mode="lines", name=name,
                                 line=dict(color=color, width=1),
                                 xaxis=xa, yaxis=ya, showlegend=False))
    y_lo = 1 - BOTTOMS[k] / H
    y_hi = 1 - (BOTTOMS[k] - PANEL_H) / H
    layout_axes["xaxis" + sx] = dict(
        domain=[LEFT / W, 1], range=[1958.6, 2022.2], anchor=ya, automargin=False,
        tickvals=YEAR_TICKS, ticks="inside", ticklen=3, tickcolor=AXIS_COLOR,
        showline=True, linecolor=AXIS_COLOR, linewidth=1, mirror=False,
        showgrid=False, zeroline=False,
        tickfont=dict(family=FONT, size=9, color="black"))
    layout_axes["yaxis" + sx] = dict(
        domain=[y_lo, y_hi], range=[-4, 4], anchor=xa, automargin=False,
        tickvals=SPI_TICKS, ticks="inside", ticklen=3, tickcolor=AXIS_COLOR,
        showline=True, linecolor=AXIS_COLOR, linewidth=1,
        showgrid=False, zeroline=False,
        tickfont=dict(family=FONT, size=9, color="black"))
    annotations.append(dict(text=PANEL_LABELS[k], xref=xa, yref=ya, x=1960, y=3.4,
                            xanchor="left", yanchor="middle", showarrow=False,
                            font=dict(family=FONT, size=9.5, color="black")))
    annotations.append(dict(text=Y_TITLES[k], xref="paper", yref=ya, x=10 / W, y=0,
                            xanchor="center", yanchor="middle", textangle=-90,
                            showarrow=False,
                            font=dict(family=FONT, size=12, color="black")))

annotations.append(dict(text="Year", xref="paper", yref="paper", x=206 / W, y=1 - 543 / H,
                        xanchor="center", yanchor="middle", showarrow=False,
                        font=dict(family=FONT, size=11, color="black")))

# legend box drawn in paper coordinates
def px(xp):
    return xp / W

def py(yp):
    return 1 - yp / H

shapes = [dict(type="rect", xref="paper", yref="paper", x0=px(118), x1=px(292),
               y0=py(15), y1=py(2), line=dict(color="#666666", width=1))]
LEG_LINE_X = [(120, 138), (190, 208), (255, 273)]
LEG_TEXT_X = [143, 211, 277]
for name, color, (a, b), tx in zip(STATIONS, COLORS, LEG_LINE_X, LEG_TEXT_X):
    shapes.append(dict(type="line", xref="paper", yref="paper", x0=px(a), x1=px(b),
                       y0=py(8.5), y1=py(8.5), line=dict(color=color, width=3.5)))
    annotations.append(dict(text=name, xref="paper", yref="paper", x=px(tx), y=py(8.5),
                            xanchor="left", yanchor="middle", showarrow=False,
                            font=dict(family=FONT, size=9.5, color="black")))

fig.update_layout(template="none")
fig.update_layout(**layout_axes)
fig.update_layout(width=W, height=H, margin=dict(l=0, r=0, t=0, b=0, pad=0),
                  paper_bgcolor="white", plot_bgcolor="white", hovermode=False,
                  annotations=annotations, shapes=shapes, showlegend=False,
                  font=dict(family=FONT))
# remove the browser's default 8px page margin so the 392x550 figure fills the window
fig.write_html("out.html", config={"displayModeBar": False, "staticPlot": True},
               post_script="document.body.style.margin='0';document.body.style.overflow='hidden';")
